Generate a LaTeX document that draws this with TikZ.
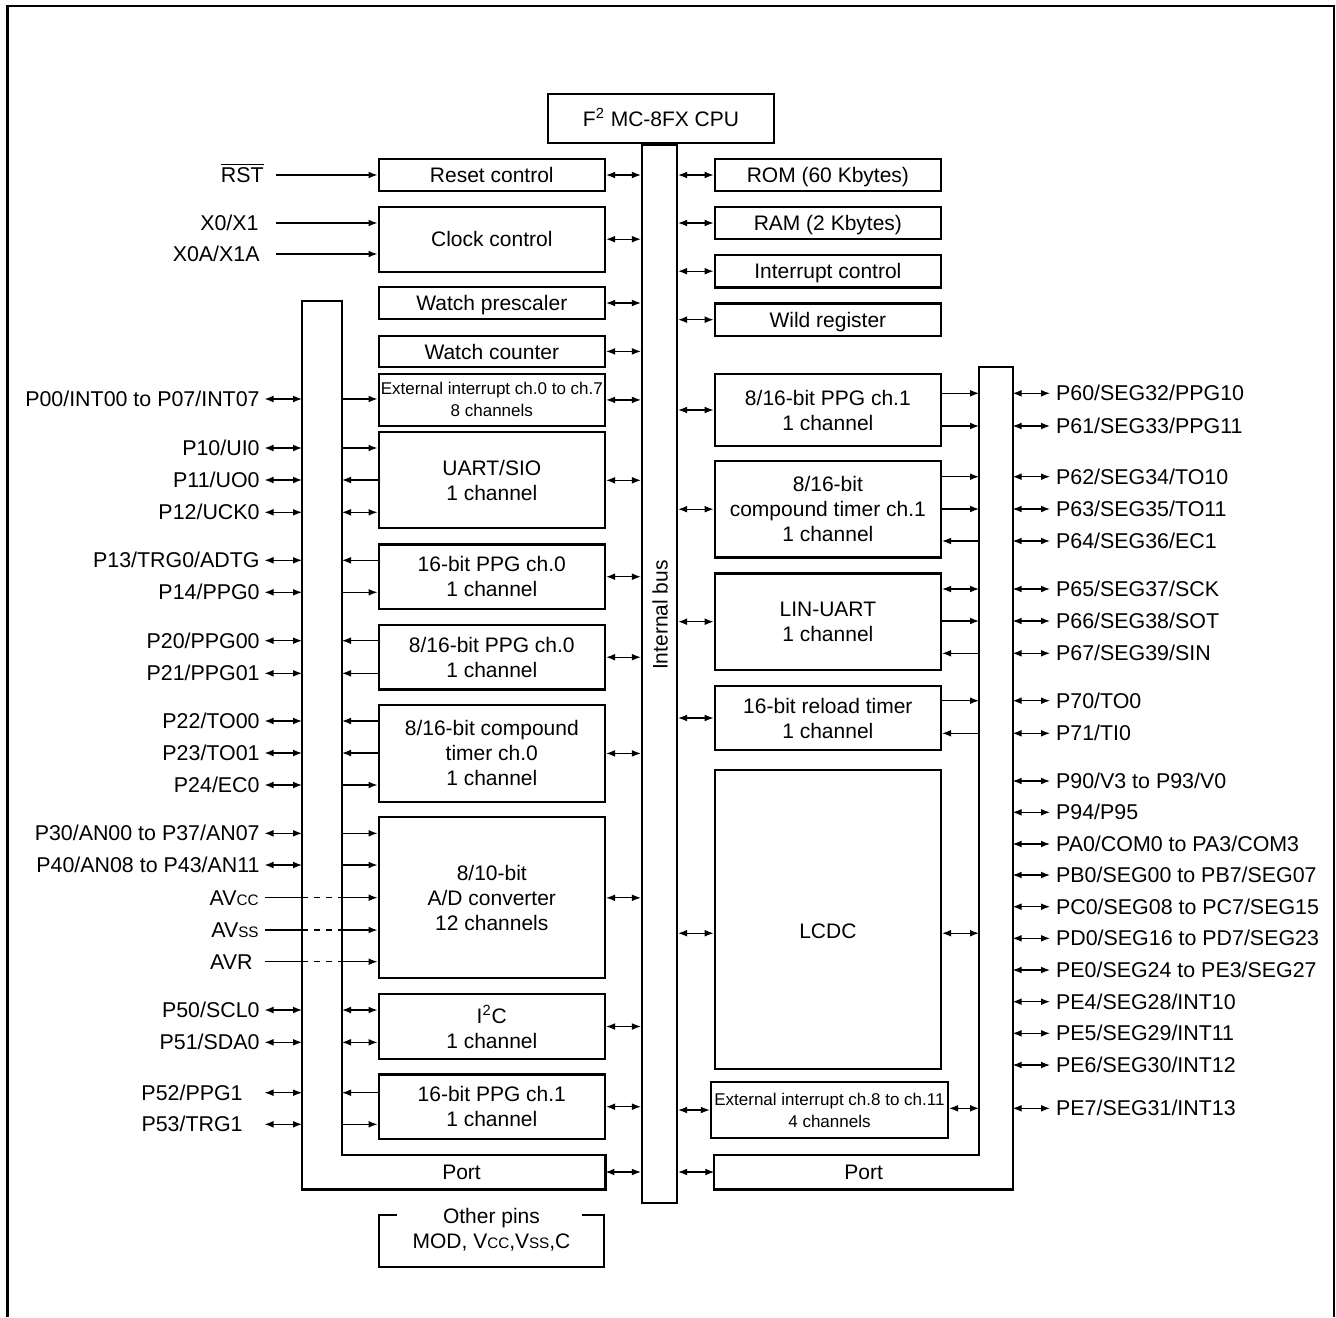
\documentclass[tikz,border=0pt]{standalone}
\usepackage{fontspec}
\setmainfont{Liberation Sans}
\usetikzlibrary{arrows.meta}
\newcommand{\smc}[1]{{\fontsize{7.6}{9}\selectfont #1}}

\begin{document}
\begin{tikzpicture}[x=0.5pt, y=-0.5pt,
  font=\fontsize{10.5}{12.5}\selectfont,
  >={Latex[length=4.5pt,width=3.4pt]},
  blk/.style={draw, line width=1.1pt, inner sep=0pt, align=center},
  lbox/.style={blk, minimum width=113.2pt},
  rbox/.style={blk, minimum width=113.15pt},
  one/.style={text height=7.6pt, text depth=0pt},
  small/.style={font=\fontsize{8.5}{11}\selectfont},
  pinl/.style={anchor=east, inner sep=0pt, text height=7.6pt, text depth=0pt, font=\fontsize{10.7}{12.5}\selectfont},
  pinr/.style={anchor=west, inner sep=0pt, text height=7.6pt, text depth=0pt, font=\fontsize{10.7}{12.5}\selectfont},
  wire/.style={line width=0.6pt},
  fwd/.style={->}, bwd/.style={<-}, both/.style={<->},
  frm/.style={line width=1.1pt}]
  \useasboundingbox (0,0) rectangle (1336,1317);
  \draw[frm] (7.5,1317) |- (1334,6) -- (1334,1317);
  % CPU and internal bus
  \node[blk, one, minimum width=113pt, minimum height=24.5pt] (cpu) at (661,118.5) {F\textsuperscript{2} MC-8FX CPU};
  \node[blk, minimum width=17.5pt, minimum height=529pt] (bus) at (659.5,674) {};
  \node[rotate=90] (buslbl) at (660,615) {Internal bus};
  % x positions of the pin columns
  \coordinate (lpa) at (264.5,0); \coordinate (lpo) at (302,0); \coordinate (lpi) at (342,0);
  \coordinate (rpi) at (979,0); \coordinate (rpo) at (1012.6,0); \coordinate (rpa) at (1050,0);
  \coordinate (xin) at (276,0);
  % left blocks
  \node[lbox, one, minimum height=16.2pt] (rst) at (491.8,175) {Reset control};
  \node[lbox, one, minimum height=32.5pt] (clk) at (491.8,239.2) {Clock control};
  \node[lbox, one, minimum height=16pt] (wpre) at (491.8,303) {Watch prescaler};
  \node[lbox, one, minimum height=15.7pt] (wcnt) at (491.8,351.4) {Watch counter};
  \node[lbox, small, minimum height=25.9pt] (eint) at (491.8,399.9) {External interrupt ch.0 to ch.7\\8 channels};
  \node[lbox, minimum height=48pt] (uart) at (491.8,480.3) {UART/SIO\\1 channel};
  \node[lbox, minimum height=32.3pt] (ppga) at (491.8,576.7) {16-bit PPG ch.0\\1 channel};
  \node[lbox, minimum height=32.2pt] (ppgb) at (491.8,657.2) {8/16-bit PPG ch.0\\1 channel};
  \node[lbox, minimum height=48.3pt] (cmpa) at (491.8,753.4) {8/16-bit compound\\timer ch.0\\1 channel};
  \node[lbox, minimum height=80.5pt] (adc) at (491.8,897.8) {8/10-bit\\A/D converter\\12 channels};
  \node[lbox, minimum height=32.5pt] (iic) at (491.8,1026.5) {I\textsuperscript{2}C\\1 channel};
  \node[lbox, minimum height=32.3pt] (ppgd) at (491.8,1106.7) {16-bit PPG ch.1\\1 channel};
  % right blocks
  \node[rbox, one, minimum height=16.2pt] (rom) at (827.85,175) {ROM (60 Kbytes)};
  \node[rbox, one, minimum height=16.3pt] (ram) at (827.85,223) {RAM (2 Kbytes)};
  \node[rbox, one, minimum height=16.2pt] (intc) at (827.85,271.2) {Interrupt control};
  \node[rbox, one, minimum height=16.3pt] (wild) at (827.85,319.7) {Wild register};
  \node[rbox, minimum height=36pt] (ppgc) at (827.85,410) {8/16-bit PPG ch.1\\1 channel};
  \node[rbox, minimum height=48.2pt] (cmpb) at (827.85,509.2) {8/16-bit\\compound timer ch.1\\1 channel};
  \node[rbox, minimum height=48.3pt] (lin) at (827.85,621.7) {LIN-UART\\1 channel};
  \node[rbox, minimum height=32pt] (rld) at (827.85,718) {16-bit reload timer\\1 channel};
  \node[rbox, text height=19pt, text depth=0pt, minimum height=149.5pt] (lcdc) at (827.85,919.5) {LCDC};
  \node[blk, small, minimum width=118.55pt, minimum height=28.3pt] (eintb) at (829.45,1110) {External interrupt ch.8 to ch.11\\4 channels};
  % ports
  \node[inner sep=0pt, minimum width=151.5pt, minimum height=17pt] (lport) at (453.5,1172) {\hspace*{8pt}Port};
  \draw[frm] (lport.north east) -| (lpi |- 0,301) -| (lport.south west) -- (lport.south east) -- cycle;
  \node[inner sep=0pt, minimum width=148.95pt, minimum height=17pt] (rport) at (863.65,1172) {Port};
  \draw[frm] (rport.north west) -| (rpi |- 0,367.3) -| (rport.south east) -- (rport.south west) -- cycle;
  % other pins
  \node[align=center] (oth) at (491.5,1230) {Other pins\\MOD, V\smc{CC},V\smc{SS},C};
  \draw[frm] (397,1215) -| (378.6,1266.7) -| (604,1215) -- (582,1215);
  % reset and clock inputs
  \node[pinl] (rstp) at (264,175) {$\overline{\mbox{RST}}$};
  \node[pinl] (x0) at (259,223) {X0/X1};
  \node[pinl] (x0a) at (260,254) {X0A/X1A};
  \foreach \n/\b in {rstp/rst, x0/clk, x0a/clk}
    \draw[wire,fwd] (xin |- \n) -- (\b.west |- \n);
  % left pins
  \foreach \pl/\px/\py/\pd/\pb [count=\k] in {{P00/INT00 to P07/INT07}/260/399/fwd/eint,
      {P10/UI0}/260/448/fwd/uart, {P11/UO0}/260/480/bwd/uart, {P12/UCK0}/260/512.3/both/uart,
      {P13/TRG0/ADTG}/260/560.3/bwd/ppga, {P14/PPG0}/260/592.3/fwd/ppga,
      {P20/PPG00}/260/640.7/bwd/ppgb, {P21/PPG01}/260/673.3/bwd/ppgb,
      {P22/TO00}/260/721/bwd/cmpa, {P23/TO01}/260/753/bwd/cmpa, {P24/EC0}/260/785/fwd/cmpa,
      {P30/AN00 to P37/AN07}/260/833.3/fwd/adc, {P40/AN08 to P43/AN11}/260/865/fwd/adc,
      {P50/SCL0}/260/1010/both/iic, {P51/SDA0}/260/1042.3/both/iic,
      {P52/PPG1}/243/1092.7/bwd/ppgd, {P53/TRG1}/243/1124.3/fwd/ppgd}{
    \node[pinl] (lp\k) at (\px,\py) {\pl};
    \draw[wire,both] (lpa |- lp\k) -- (lpo |- lp\k);
    \draw[wire,\pd] (lpi |- lp\k) -- (\pb.west |- lp\k);
  }
  \foreach \pl/\px/\py [count=\k] in {{AV\smc{CC}}/259/897.7, {AV\smc{SS}}/259/930, AVR/253/961.7}{
    \node[pinl] (av\k) at (\px,\py) {\pl};
    \draw[wire] (lpa |- av\k) -- (lpo |- av\k);
    \draw[wire, dash pattern=on 3pt off 3pt] (lpo |- av\k) -- (lpi |- av\k);
    \draw[wire,fwd] (lpi |- av\k) -- (adc.west |- av\k);
  }
  % right pins
  \foreach \pl/\py/\pd/\pb [count=\k] in {{P60/SEG32/PPG10}/393.3/fwd/ppgc, {P61/SEG33/PPG11}/426/fwd/ppgc,
      {P62/SEG34/TO10}/476.7/fwd/cmpb, {P63/SEG35/TO11}/509/fwd/cmpb, {P64/SEG36/EC1}/541/bwd/cmpb,
      {P65/SEG37/SCK}/589/both/lin, {P66/SEG38/SOT}/621/fwd/lin, {P67/SEG39/SIN}/653.3/bwd/lin,
      {P70/TO0}/700.7/fwd/rld, {P71/TI0}/733.3/bwd/rld, {PE7/SEG31/INT13}/1108.3/both/eintb}{
    \node[pinr] (rp\k) at (1055.7,\py) {\pl};
    \draw[wire,both] (rpo |- rp\k) -- (rpa |- rp\k);
    \draw[wire,\pd] (\pb.east |- rp\k) -- (rpi |- rp\k);
  }
  \foreach \pl/\py [count=\k] in {{P90/V3 to P93/V0}/781, {P94/P95}/812.3, {PA0/COM0 to PA3/COM3}/844,
      {PB0/SEG00 to PB7/SEG07}/875, {PC0/SEG08 to PC7/SEG15}/906.7, {PD0/SEG16 to PD7/SEG23}/938.3,
      {PE0/SEG24 to PE3/SEG27}/970, {PE4/SEG28/INT10}/1001.7, {PE5/SEG29/INT11}/1033.3,
      {PE6/SEG30/INT12}/1065}{
    \node[pinr] (lc\k) at (1055.7,\py) {\pl};
    \draw[wire,both] (rpo |- lc\k) -- (rpa |- lc\k);
  }
  % internal bus connections
  \foreach \b in {rst,clk,wpre,wcnt,eint,uart,ppga,ppgb,cmpa,adc,iic,ppgd,lport}
    \draw[wire,both] (\b.east) -- (bus.west |- \b.east);
  \foreach \b in {rom,ram,intc,wild,ppgc,cmpb,lin,rld,eintb,rport}
    \draw[wire,both] (bus.east |- \b.west) -- (\b.west);
  \draw[wire,both] (bus.east |- lcdc.mid west) -- (lcdc.mid west);
  \draw[wire,both] (lcdc.mid east) -- (rpi |- lcdc.mid east);
\end{tikzpicture}
\end{document}
